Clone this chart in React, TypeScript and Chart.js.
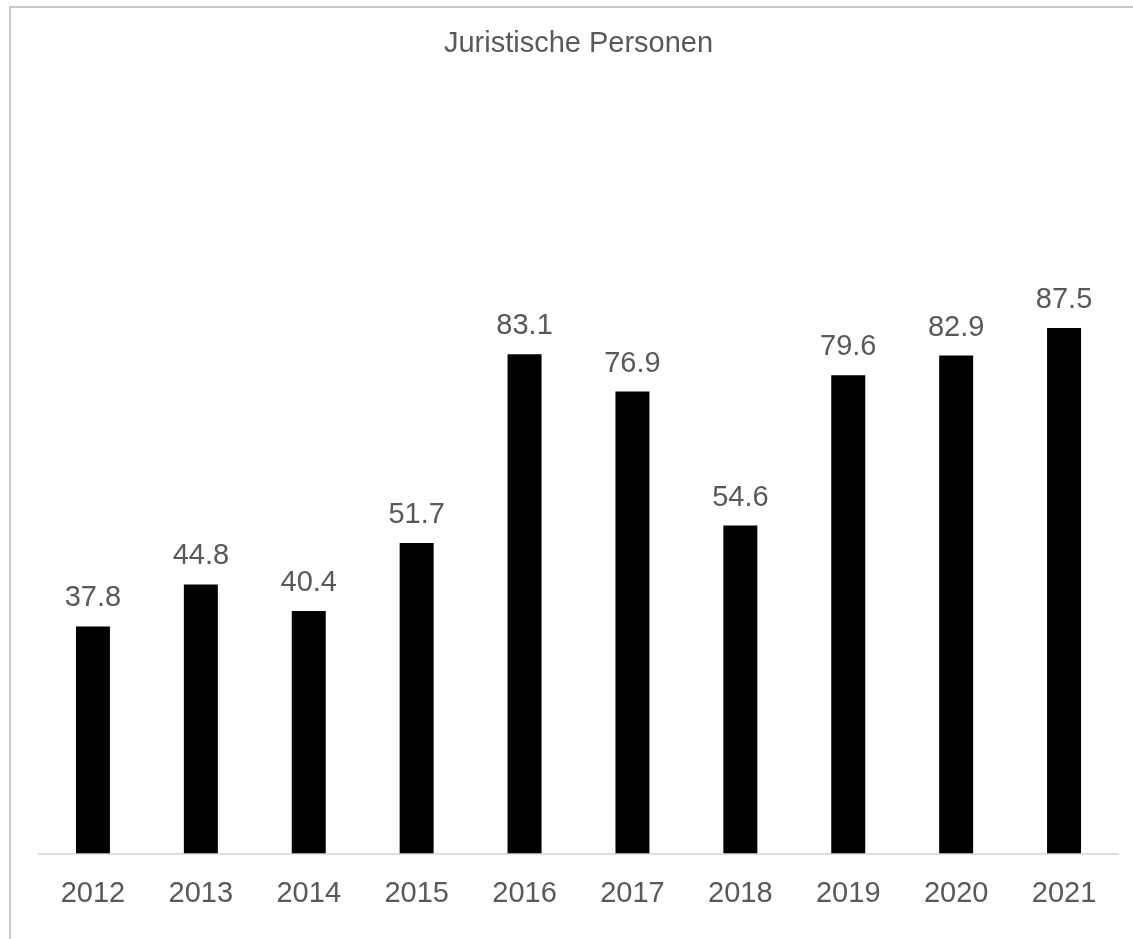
import React, { useEffect, useRef } from "react";
import { Chart, registerables } from "chart.js";

Chart.register(...registerables);

const years = ["2012", "2013", "2014", "2015", "2016", "2017", "2018", "2019", "2020", "2021"];
const values = [37.8, 44.8, 40.4, 51.7, 83.1, 76.9, 54.6, 79.6, 82.9, 87.5];
const titleText = "Juristische Personen";

const FONT = "'Liberation Sans', Arial, sans-serif";
const TEXT_COLOR = "#595959";

const valueLabels = {
  id: "valueLabels",
  afterDatasetsDraw(chart: any) {
    const ctx = chart.ctx;
    const meta = chart.getDatasetMeta(0);
    ctx.save();
    ctx.font = `29px ${FONT}`;
    ctx.fillStyle = TEXT_COLOR;
    ctx.textAlign = "center";
    ctx.textBaseline = "middle";
    meta.data.forEach((bar: any, i: number) => {
      const v = chart.data.datasets[0].data[i];
      ctx.fillText(Number(v).toFixed(1), bar.x, bar.y - 28);
    });
    ctx.restore();
  },
};

export default function App() {
  const ref = useRef<HTMLCanvasElement>(null);
  useEffect(() => {
    if (!ref.current) return;
    const chart = new Chart(ref.current, {
      type: "bar",
      data: {
        labels: years,
        datasets: [
          {
            data: values,
            backgroundColor: "#000000",
            categoryPercentage: 1,
            barPercentage: 0.315,
          },
        ],
      },
      options: {
        responsive: false,
        animation: false,
        layout: { padding: { left: 28, right: 15, top: 0, bottom: 12.6 } },
        plugins: {
          legend: { display: false },
          tooltip: { enabled: false },
          title: {
            display: true,
            text: titleText,
            color: TEXT_COLOR,
            font: { family: FONT, size: 29, weight: "normal" },
            padding: { top: 19, bottom: 191 },
          },
        },
        scales: {
          x: {
            grid: { display: false },
            border: { display: true, color: "#d9d9d9", width: 1.7 },
            ticks: {
              color: TEXT_COLOR,
              font: { family: FONT, size: 29 },
              padding: 15,
              maxRotation: 0,
            },
          },
          y: {
            display: false,
            min: 0,
            max: 100,
          },
        },
      },
      plugins: [valueLabels],
    });
    return () => chart.destroy();
  }, []);

  return (
    <div
      style={{
        position: "fixed",
        left: 9,
        top: 6,
        width: 1124,
        height: 933,
        boxSizing: "border-box",
        borderTop: "2px solid #c8c8c8",
        borderLeft: "2px solid #c8c8c8",
        background: "#fff",
      }}
    >
      <canvas ref={ref} width={1122} height={931} style={{ display: "block", width: 1122, height: 931 }} />
    </div>
  );
}
